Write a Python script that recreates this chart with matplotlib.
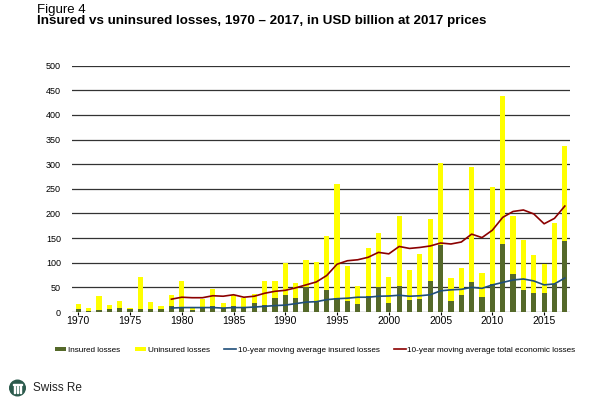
import matplotlib.pyplot as plt
from matplotlib.patches import Circle, Rectangle

plt.rcParams['font.family'] = ['Liberation Sans Narrow', 'Liberation Sans', 'DejaVu Sans']

years = list(range(1970, 2018))

insured = [7, 3, 5, 7, 9, 6, 7, 7, 7, 13,
           10, 5, 10, 13, 8, 12, 9, 18, 14, 28,
           34, 28, 50, 23, 44, 28, 23, 17, 32, 50,
           19, 52, 24, 27, 63, 136, 22, 35, 60, 30,
           57, 139, 77, 45, 38, 38, 56, 144]

uninsured = [10, 6, 28, 8, 14, 3, 64, 13, 6, 22,
             53, 5, 16, 33, 10, 23, 19, 18, 49, 35,
             66, 31, 55, 78, 111, 232, 71, 35, 98, 110,
             52, 142, 61, 90, 126, 167, 47, 55, 235, 50,
             197, 300, 118, 101, 77, 59, 125, 192]

ma_years = list(range(1979, 2018))
ma_insured = [8, 9, 9, 9, 9, 8, 9, 9, 10, 11.5,
              13, 14, 17, 20, 21, 25, 27, 28, 30, 30,
              32, 32.5, 34, 32, 33, 35, 43, 45, 46, 50,
              48, 55, 60, 65, 67, 63, 55, 57, 69]
ma_total = [26, 30, 29, 29, 33, 32, 35, 30, 32, 38,
            42, 44, 49, 55, 61, 74, 97, 104, 106, 111,
            121, 118, 133, 129, 131, 134, 140, 138, 142, 158,
            151, 166, 192, 204, 207, 199, 179, 190, 215]

green = '#55692a'
yellow = '#ffff00'

fig = plt.figure(figsize=(6, 4), dpi=100)
ax = fig.add_axes([0.12, 0.22, 0.83, 0.616])

b1 = ax.bar(years, insured, width=0.5, color=green, zorder=3)
b2 = ax.bar(years, uninsured, width=0.5, bottom=insured, color=yellow, zorder=3)
l1, = ax.plot(ma_years, ma_insured, color='#1f4e79', lw=1.2, zorder=4)
l2, = ax.plot(ma_years, ma_total, color='#8b0000', lw=1.2, zorder=4)

ax.set_xlim(1969.4, 2017.5)
ax.set_ylim(0, 500)
ax.set_yticks(range(0, 501, 50))
ax.set_xticks(range(1970, 2016, 5))
ax.yaxis.grid(True, color='#333333', lw=0.9, zorder=0)
ax.tick_params(axis='y', length=0, labelsize=6.5, pad=8)
ax.tick_params(axis='x', length=2, labelsize=7.5, pad=1)
for s in ax.spines.values():
    s.set_visible(False)

fig.legend([b1, b2, l1, l2],
           ['Insured losses', 'Uninsured losses',
            '10-year moving average insured losses',
            '10-year moving average total economic losses'],
           loc='center', bbox_to_anchor=(0.525, 0.125), ncol=4,
           frameon=False, fontsize=5.9, handlelength=1.4, handleheight=0.4,
           handletextpad=0.2, columnspacing=1.8)

fig.text(0.062, 0.99, 'Figure 4', fontsize=9.5, va='top')
fig.text(0.062, 0.962, 'Insured vs uninsured losses, 1970 \u2013 2017, in USD billion at 2017 prices',
         fontsize=9.6, fontweight='bold', va='top')

# logo
tr = fig.dpi_scale_trans
fig.patches.append(Circle((0.175, 0.12), 0.078, transform=tr,
                          color='#2b5a4c', figure=fig))
for dx in (-0.03, 0.0, 0.03):
    fig.patches.append(Rectangle((0.175 + dx - 0.007, 0.075), 0.014, 0.065,
                                 transform=tr, color='white', figure=fig))
fig.patches.append(Rectangle((0.13, 0.148), 0.09, 0.016,
                             transform=tr, color='white', figure=fig))
fig.text(0.055, 0.03, 'Swiss Re', fontsize=8.5, va='center', color='#222222',
         family='Liberation Sans')

fig.savefig('out.png', dpi=100)
